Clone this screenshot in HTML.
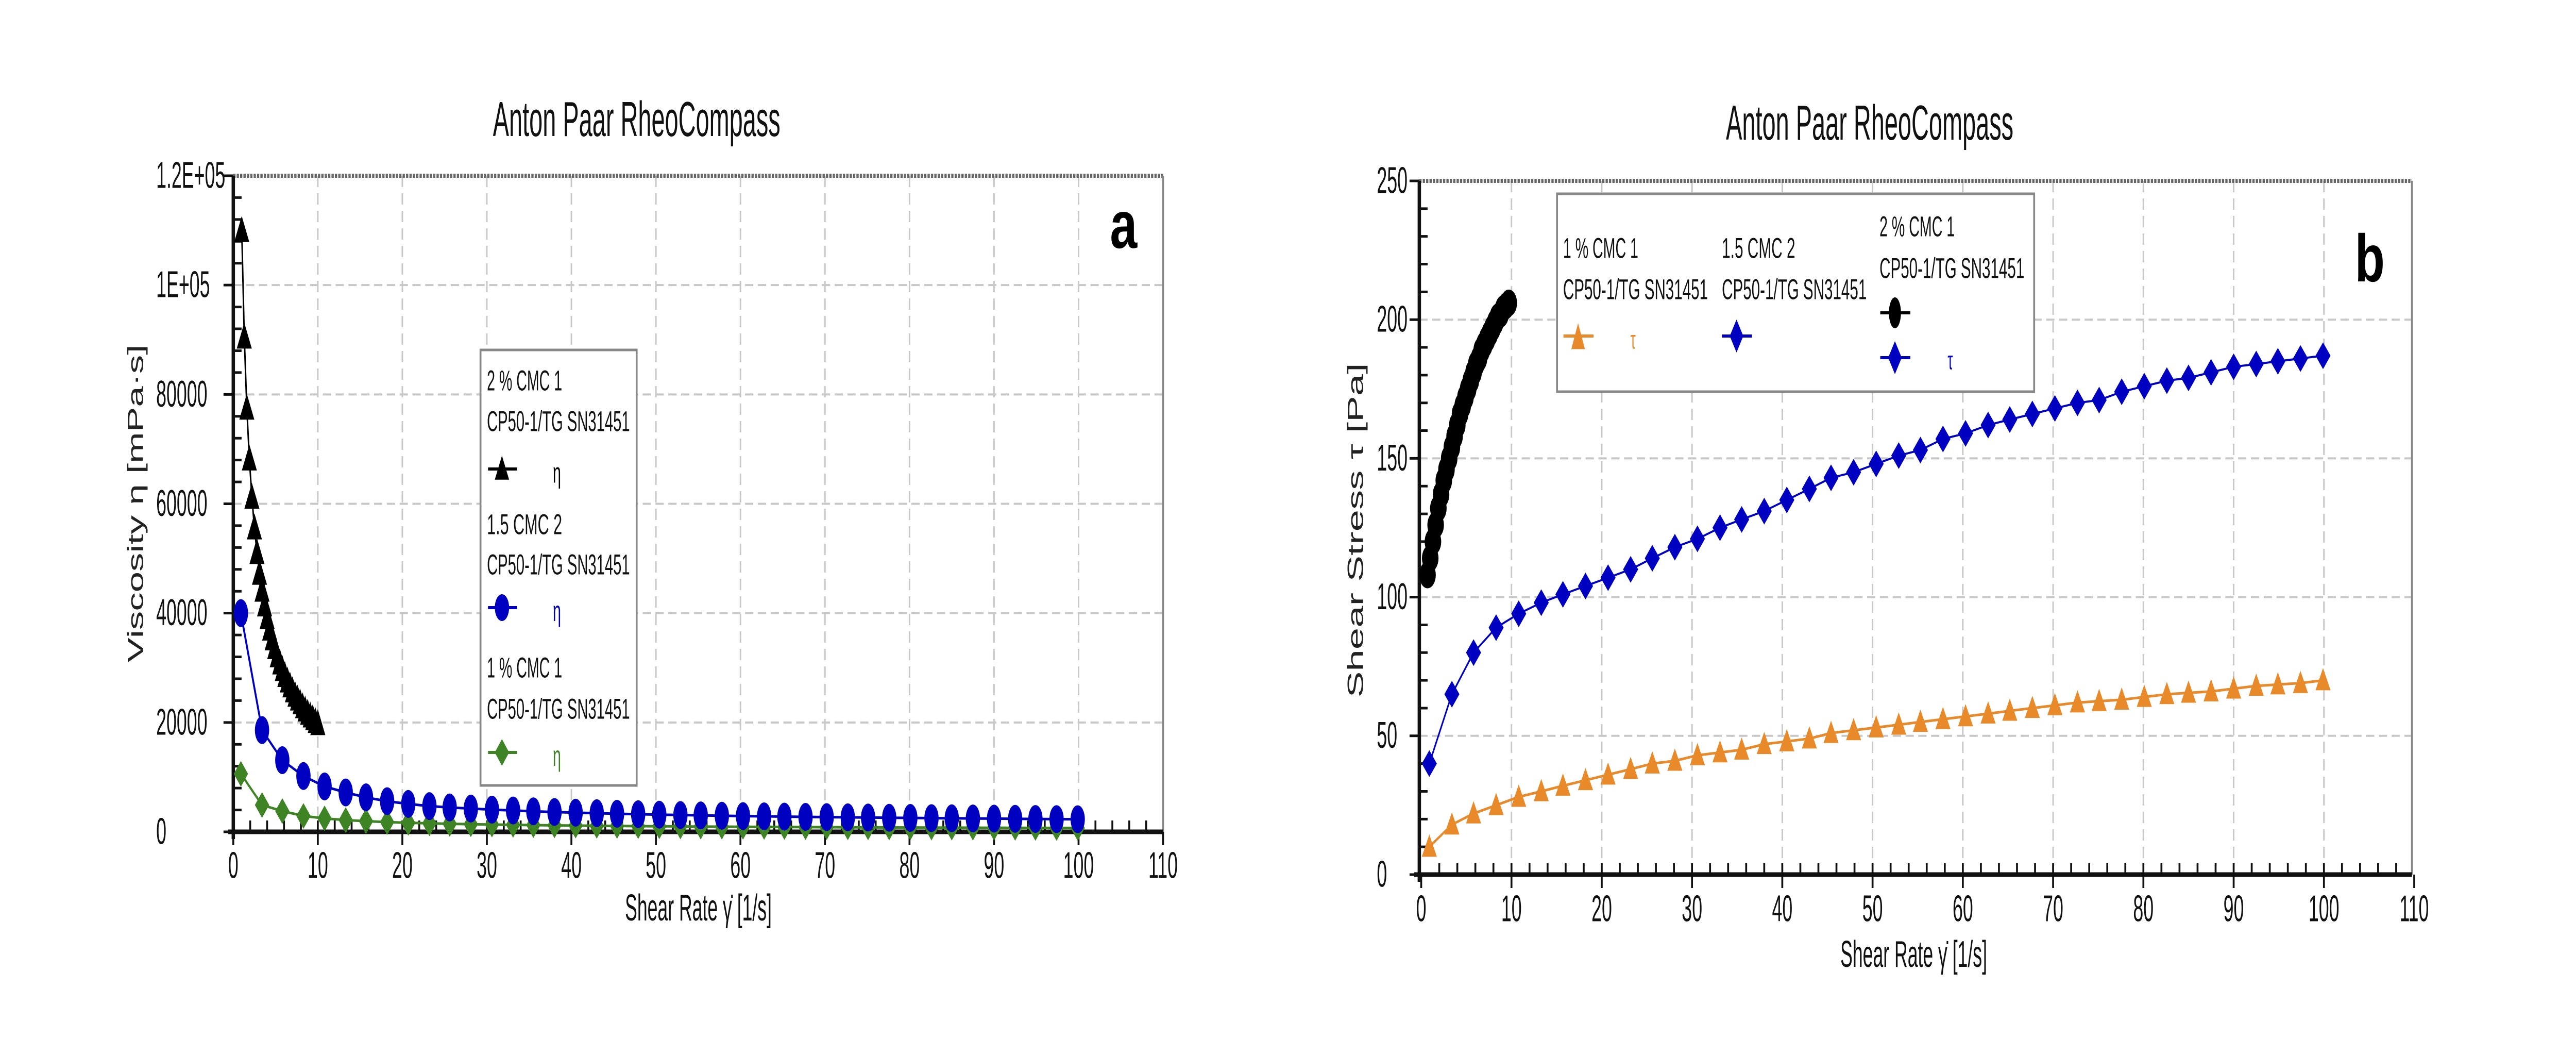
<!DOCTYPE html>
<html><head><meta charset="utf-8"><style>
html,body{margin:0;padding:0;background:#fff;overflow:hidden;}
svg{display:block;width:100vw;height:100vh;}
text{font-family:"Liberation Sans",sans-serif;}
</style></head><body>
<svg id="fig" xmlns="http://www.w3.org/2000/svg" viewBox="0 0 6846 2016" preserveAspectRatio="none">
<rect x="0" y="0" width="6846" height="2016" fill="#fff"/>
<g id="chartA"></g>
<g id="chartB"></g>
</svg>
<script>
// ---------- data ----------
const denseX = [1.0,1.3,1.6,1.9,2.2,2.5,2.8,3.1,3.4,3.7,4.0,4.3,4.6,4.9,5.2,5.5,5.8,6.1,6.4,6.7,7.0,7.3,7.6,7.9,8.2,8.5,8.8,9.1,9.4,9.7,10.0];
const visc2pct = [110000,90500,77500,68200,61200,55600,51100,47300,44200,41500,39200,37100,35300,33700,32200,30900,29700,28600,27600,26700,25800,25000,24300,23600,22900,22300,21700,21200,20700,20200,19800];
const sparseX = [0.9,3.4,5.8,8.3,10.8,13.3,15.7,18.2,20.7,23.2,25.6,28.1,30.6,33.1,35.5,38.0,40.5,43.0,45.4,47.9,50.4,52.9,55.3,57.8,60.3,62.8,65.2,67.7,70.2,72.7,75.1,77.6,80.1,82.6,85.0,87.5,90.0,92.5,94.9,97.4,99.9];
const visc15 = [40000,18600,13100,10200,8300,7200,6300,5600,5100,4700,4450,4250,4050,3900,3750,3620,3500,3400,3300,3220,3140,3070,3000,2940,2880,2830,2780,2730,2690,2650,2610,2570,2540,2500,2470,2440,2410,2380,2350,2320,2300];
const visc1pct = [10600,4900,3800,2900,2450,2150,1950,1780,1650,1550,1460,1390,1330,1270,1220,1180,1140,1100,1070,1040,1010,985,960,940,920,900,880,860,845,830,815,800,790,775,765,750,740,730,720,710,700];
const stress2pct = [108,114,120,126,132,137,142,146,150,154,158,162,166,169,172,175,178,181,184,186,189,191,193,195,197,199,201,202,204,205,206];
const stress15 = [40,65,80,89,94,98,101,104,107,110,114,118,121,125,128,131,135,139,143,145,148,151,153,157,159,162,164,166,168,170,171,174,176,178,179,181,183,184,185,186,187];
const stress1pct = [10,18,22,25,28,30,32,34,36,38,40,41,43,44,45,47,48,49,51,52,53,54,55,56,57,58,59,60,61,62,62.5,63,64,65,65.5,66,67,68,68.5,69,70];
const xTicks = [0,10,20,30,40,50,60,70,80,90,100,110];
const yTicksA = [0,20000,40000,60000,80000,100000,120000];
const yTickLabelsA = ["0","20000","40000","60000","80000","1E+05","1.2E+05"];
const yTicksB = [0,50,100,150,200,250];

const NS = "http://www.w3.org/2000/svg";
function el(parent, tag, attrs){
  const e = document.createElementNS(NS, tag);
  for (const k in attrs) e.setAttribute(k, attrs[k]);
  parent.appendChild(e);
  return e;
}
function ctext(parent, x, y, str, size, anchor, sx, fill, weight){
  const t = document.createElementNS(NS, "text");
  t.setAttribute("x", x/sx); t.setAttribute("y", y);
  t.setAttribute("transform", "scale(" + sx + ",1)");
  t.setAttribute("font-size", size);
  t.setAttribute("text-anchor", anchor);
  t.setAttribute("dominant-baseline", "central");
  t.setAttribute("fill", fill || "#111");
  if (weight) t.setAttribute("font-weight", weight);
  t.textContent = str;
  parent.appendChild(t);
  return t;
}
function marker(parent, shape, cx, cy, rx, ry, color){
  let m;
  if (shape === "circle") m = el(parent, "ellipse", {cx:cx, cy:cy, rx:rx, ry:ry, fill:color});
  else if (shape === "tri") m = el(parent, "polygon", {points:(cx)+","+(cy-ry)+" "+(cx+rx)+","+(cy+ry*0.8)+" "+(cx-rx)+","+(cy+ry*0.8), fill:color});
  else m = el(parent, "polygon", {points:cx+","+(cy-ry)+" "+(cx+rx)+","+cy+" "+cx+","+(cy+ry)+" "+(cx-rx)+","+cy, fill:color});
  return m;
}

function drawFrame(g, L, R, T, B, xs, ys, yTicks, yLabels, yLabelX, xLabelY){
  xTicks.forEach(v => { if (v>0 && v<110){ const l = el(g,"line",{x1:xs(v),x2:xs(v),y1:T,y2:B,stroke:"#c8c8c8","stroke-width":4,"stroke-dasharray":"22,12"});
      }});
  yTicks.forEach(v => { const y = ys(v); if (y>T+2 && y<B-2){ const l = el(g,"line",{x1:L,x2:R,y1:y,y2:y,stroke:"#c8c8c8","stroke-width":4,"stroke-dasharray":"22,12"});
      }});
  el(g,"line",{x1:L,x2:R,y1:T,y2:T,stroke:"#666","stroke-width":8,"stroke-dasharray":"6,3"});
  el(g,"line",{x1:R,x2:R,y1:T,y2:B,stroke:"#888","stroke-width":5});
  const xa = el(g,"line",{x1:L-14,x2:R,y1:B,y2:B,stroke:"#111","stroke-width":9});
   
  const ya = el(g,"line",{x1:L,x2:L,y1:T,y2:B+14,stroke:"#111","stroke-width":9});
   
  for (let v=2; v<110; v+=2){ el(g,"line",{x1:xs(v),x2:xs(v),y1:B,y2:B-22,stroke:"#111","stroke-width":5}); }
  for (let i=0;i<yTicks.length-1;i++){ for (let k=1;k<5;k++){ const v = yTicks[i]+(yTicks[i+1]-yTicks[i])*k/5; el(g,"line",{x1:L,x2:L+22,y1:ys(v),y2:ys(v),stroke:"#111","stroke-width":5}); } }
  xTicks.forEach(v => {
    el(g,"line",{x1:xs(v),x2:xs(v),y1:B,y2:B+26,stroke:"#111","stroke-width":5});
    const t = ctext(g, xs(v), xLabelY, String(v), 72, "middle", 0.68);
     
  });
  yTicks.forEach((v,i) => {
    el(g,"line",{x1:L-26,x2:L,y1:ys(v),y2:ys(v),stroke:"#111","stroke-width":5});
    const t = ctext(g, yLabelX, ys(v), yLabels[i], 72, "start", 0.68);
     
  });
}

function series(g, xsArr, ysArr, xs, ys, color, shape, rx, ry, name, lw){
  const s = el(g,"g",{});
  
  
  const pts = xsArr.map((x,i)=> xs(x)+","+ys(ysArr[i])).join(" ");
  el(s,"polyline",{points:pts,fill:"none",stroke:color,"stroke-width":lw||5});
  xsArr.forEach((x,i)=>{
    const m = marker(s, shape, xs(x), ys(ysArr[i]), rx, ry, color);
    
    
  });
}

function legendText(g, x, y, str, w, size, fill){
  const t = el(g,"text",{x:x,y:y,"font-size":size,"dominant-baseline":"central",fill:fill||"#111",textLength:w,lengthAdjust:"spacingAndGlyphs"});
  t.textContent = str;
  return t;
}

// ---------- chart A ----------
(function(){
  const g = document.getElementById("chartA");
  const L=620, R=3091, T=341, B=1614;
  const xs = v => L + v/110*(R-L);
  const ys = v => B - v/120000*(B-T);
  const title = legendText(g, 1692-382, 231, "Anton Paar RheoCompass", 764, 96);
   
  drawFrame(g, L, R, T, B, xs, ys, yTicksA, yTickLabelsA, 415, 1680);
  const yl = el(g,"text",{x:0,y:0,"font-size":58,"text-anchor":"middle","dominant-baseline":"central",fill:"#222",transform:"translate(360,977) rotate(-90)",textLength:617,lengthAdjust:"spacingAndGlyphs"});
  yl.textContent = "Viscosity η [mPa·s]";
   
  const xl = legendText(g, 1856-195, 1762, "Shear Rate γ̇ [1/s]", 390, 72);
   
  const pl = ctext(g, 2986, 437, "a", 130, "middle", 1, "#000", "bold");
   

  series(g, sparseX, visc1pct, xs, ys, "#3f8424", "diamond", 19, 25, "series-1pct-cmc-viscosity", 5);
  series(g, sparseX, visc15, xs, ys, "#0000c0", "circle", 19, 27, "series-15-cmc-viscosity", 5);
  series(g, denseX, visc2pct, xs, ys, "#000", "tri", 20, 28, "series-2pct-cmc-viscosity", 4);

  const lg = el(g,"g",{});
   
  el(lg,"rect",{x:1277,y:679,width:415,height:845,fill:"#fff",stroke:"#888","stroke-width":5});
  const entries = [["2 % CMC 1",739,818,910,"#000","tri"],["1.5 CMC 2",1018,1096,1179,"#0000c0","circle"],["1 % CMC 1",1296,1376,1460,"#3f8424","diamond"]];
  entries.forEach(e=>{
    const eg = el(lg,"g",{});
     
    legendText(eg, 1294, e[1], e[0], 200, 56);
    legendText(eg, 1294, e[2], "CP50-1/TG SN31451", 380, 56);
    el(eg,"line",{x1:1297,x2:1374,y1:e[3],y2:e[3],stroke:e[4],"stroke-width":6});
    marker(eg, e[5], 1334, e[3], 19, 26, e[4]);
    ctext(eg, 1480, e[3]+8, "η", 56, "middle", 0.7, e[4]);
  });
})();

// ---------- chart B ----------
(function(){
  const g = document.getElementById("chartB");
  const L=3772, R=6410, T=351, B=1697;
  const xs = v => 3777 + v/110*(6416-3777);
  const ys = v => B - v/250*(B-T);
  const title = legendText(g, 4969-382, 238, "Anton Paar RheoCompass", 764, 96);
   
  drawFrame(g, L, R, T, B, xs, ys, yTicksB, yTicksB.map(String), 3659, 1764);
  const yl = el(g,"text",{x:0,y:0,"font-size":58,"text-anchor":"middle","dominant-baseline":"central",fill:"#222",transform:"translate(3602,1029) rotate(-90)",textLength:649,lengthAdjust:"spacingAndGlyphs"});
  yl.textContent = "Shear Stress τ [Pa]";
   
  const xl = legendText(g, 5086-195, 1852, "Shear Rate γ̇ [1/s]", 390, 72);
   
  const pl = ctext(g, 6298, 502, "b", 130, "middle", 1, "#000", "bold");
   

  series(g, sparseX, stress1pct, xs, ys, "#e8892a", "tri", 20, 24, "series-1pct-cmc-stress", 5);
  series(g, sparseX, stress15, xs, ys, "#0000c0", "diamond", 20, 26, "series-15-cmc-stress", 4);
  series(g, denseX.map(v=>v-0.3), stress2pct, xs, ys, "#000", "circle", 22, 26, "series-2pct-cmc-stress", 5);

  const lg = el(g,"g",{});
   
  el(lg,"rect",{x:4138,y:376,width:1268,height:384,fill:"#fff",stroke:"#888","stroke-width":5});
  const e1 = el(lg,"g",{});  
  legendText(e1, 4154, 482, "1 % CMC 1", 200, 56);
  legendText(e1, 4154, 562, "CP50-1/TG SN31451", 385, 56);
  el(e1,"line",{x1:4155,x2:4235,y1:652,y2:652,stroke:"#e8892a","stroke-width":6});
  marker(e1, "tri", 4194, 655, 18, 28, "#e8892a");
  ctext(e1, 4340, 660, "τ", 50, "middle", 0.7, "#e8892a");
  const e2 = el(lg,"g",{});  
  legendText(e2, 4576, 482, "1.5 CMC 2", 195, 56);
  legendText(e2, 4576, 562, "CP50-1/TG SN31451", 385, 56);
  el(e2,"line",{x1:4576,x2:4656,y1:652,y2:652,stroke:"#0000c0","stroke-width":6});
  marker(e2, "diamond", 4615, 652, 18, 32, "#0000c0");
  const e3 = el(lg,"g",{});  
  legendText(e3, 4995, 440, "2 % CMC 1", 200, 56);
  legendText(e3, 4995, 521, "CP50-1/TG SN31451", 385, 56);
  el(e3,"line",{x1:4997,x2:5077,y1:607,y2:607,stroke:"#000","stroke-width":6});
  marker(e3, "circle", 5036, 607, 16, 30, "#000");
  el(e3,"line",{x1:4997,x2:5077,y1:694,y2:694,stroke:"#0000c0","stroke-width":6});
  marker(e3, "diamond", 5036, 694, 18, 32, "#0000c0");
  ctext(e3, 5183, 700, "τ", 50, "middle", 0.7, "#0000c0");
})();
</script>
</body></html>
